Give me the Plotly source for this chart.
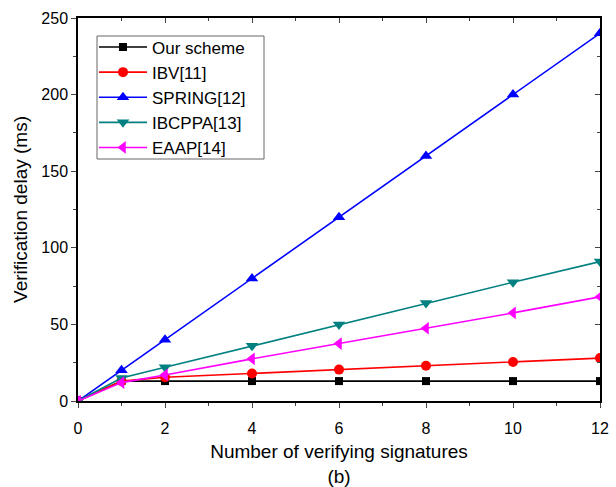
import plotly.graph_objects as go

x = [0, 1, 2, 4, 6, 8, 10, 12]
names = ["Our scheme", "IBV[11]", "SPRING[12]", "IBCPPA[13]", "EAAP[14]"]
our = [0, 13, 13, 13, 13, 13, 13, 13]
ibv = [0, 13, 15.5, 18, 20.5, 23, 25.5, 28]
spring = [0, 20, 40, 80, 120, 160, 200, 240]
ibcppa = [0, 15, 22, 36, 50, 64, 77.5, 91]
eaap = [0, 12, 17, 27.5, 37.5, 47.5, 57.5, 68]
series = [our, ibv, spring, ibcppa, eaap]
colors = ["#000000", "#ff0000", "#0000ff", "#008080", "#ff00ff"]
symbols = ["square", "circle", "triangle-up", "triangle-down", "triangle-left"]
sizes = [8, 10, 11, 11, 11]

fig = go.Figure()
for n, y, c, s, sz in zip(names, series, colors, symbols, sizes):
    fig.add_trace(go.Scatter(x=x, y=y, name=n, mode="lines+markers",
                             line=dict(color=c, width=1.6),
                             marker=dict(symbol=s, size=sz, color=c)))

font = "Liberation Sans, Arial, sans-serif"
W, H = 616, 487
L, R, T, B = 78, 16, 18, 86
pw, ph = W - L - R, H - T - B


def px_x(p):
    return (p - L) / pw


def px_y(p):
    return (H - B - p) / ph


fig.update_layout(
    width=W, height=H,
    margin=dict(l=L, r=R, t=T, b=B),
    plot_bgcolor="white", paper_bgcolor="white",
    font=dict(family=font, size=16, color="black"),
    showlegend=True,
    legend=dict(x=px_x(94), y=px_y(29.5), xanchor="left", yanchor="top",
                borderwidth=0, bgcolor="rgba(0,0,0,0)",
                font=dict(size=17), tracegroupgap=0, itemwidth=48),
    shapes=[dict(type="rect", xref="paper", yref="paper",
                 x0=px_x(97), x1=px_x(264), y0=px_y(159), y1=px_y(36),
                 line=dict(color="#666666", width=1), fillcolor="rgba(0,0,0,0)", layer="below")],
    xaxis=dict(range=[0, 12], tickvals=[0, 2, 4, 6, 8, 10, 12], automargin=False,
               ticks="outside", ticklen=5, tickwidth=1.2, showline=True, linecolor="black",
               linewidth=1.5, showgrid=False, zeroline=False, ticklabelstandoff=7,
               minor=dict(tickvals=[1, 3, 5, 7, 9, 11], ticks="outside", ticklen=3, tickwidth=1.2),
               title=dict(text="Number of verifying signatures<br>(b)", font=dict(size=19), standoff=13),
               tickfont=dict(size=16)),
    yaxis=dict(range=[0, 250], tickvals=[0, 50, 100, 150, 200, 250], automargin=False,
               ticks="outside", ticklen=5, tickwidth=1.2, showline=True, linecolor="black",
               linewidth=1.5, showgrid=False, zeroline=False,
               minor=dict(tickvals=[25, 75, 125, 175, 225], ticks="outside", ticklen=3, tickwidth=1.2),
               title=dict(text="Verification delay (ms)", font=dict(size=19), standoff=9),
               tickfont=dict(size=16)),
    xaxis2=dict(range=[0, 12], overlaying="x", side="top", tickvals=[0, 2, 4, 6, 8, 10, 12],
                automargin=False,
                ticks="inside", ticklen=5, tickwidth=1.2, showline=True, linecolor="black",
                linewidth=1.5, showgrid=False, zeroline=False, showticklabels=False,
                minor=dict(tickvals=[1, 3, 5, 7, 9, 11], ticks="inside", ticklen=3, tickwidth=1.2)),
    yaxis2=dict(range=[0, 250], overlaying="y", side="right", tickvals=[0, 50, 100, 150, 200, 250],
                automargin=False,
                ticks="inside", ticklen=5, tickwidth=1.2, showline=True, linecolor="black",
                linewidth=1.5, showgrid=False, zeroline=False, showticklabels=False,
                minor=dict(tickvals=[25, 75, 125, 175, 225], ticks="inside", ticklen=3, tickwidth=1.2)),
)
fig.add_trace(go.Scatter(x=[None], y=[None], xaxis="x2", yaxis="y2", showlegend=False, hoverinfo="skip"))
fig.write_html("out.html", config={"displayModeBar": False},
               post_script="document.body.style.margin='0';document.body.style.overflow='hidden';")
